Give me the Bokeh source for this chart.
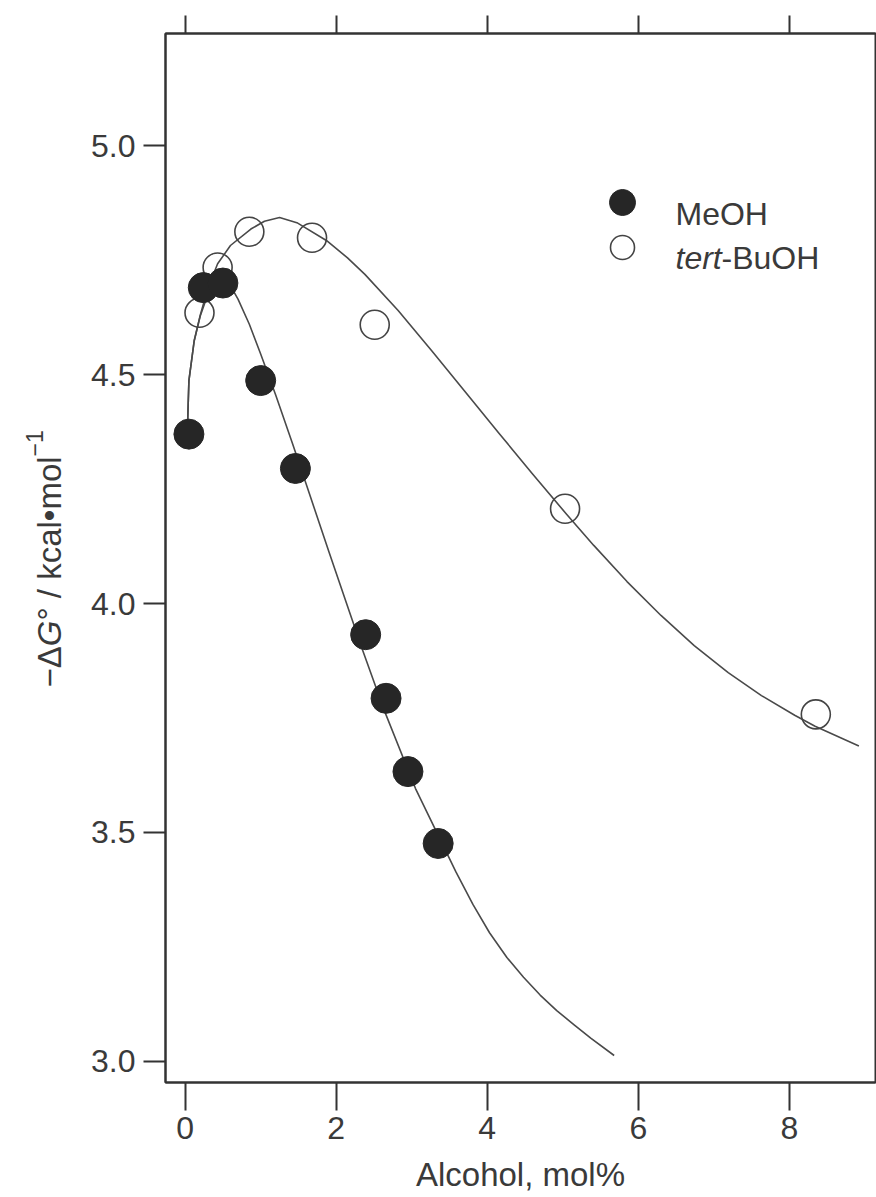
import math
from bokeh.plotting import figure
from bokeh.layouts import row
from bokeh.models import LinearAxis, FixedTicker, Label, Range1d, PrintfTickFormatter
from bokeh.embed import file_html
from bokeh.resources import INLINE

# ---------------- data ----------------
meoh_x = [0.05, 0.24, 0.50, 1.00, 1.46, 2.39, 2.66, 2.95, 3.35]
meoh_y = [4.370, 4.690, 4.700, 4.487, 4.295, 3.932, 3.793, 3.633, 3.476]

tbuoh_x = [0.19, 0.43, 0.85, 1.68, 2.51, 5.03, 8.35]
tbuoh_y = [4.635, 4.734, 4.812, 4.799, 4.609, 4.207, 3.758]

# fitted curves
meoh_fit_x = [0.03, 0.05, 0.12, 0.20, 0.30, 0.45, 0.58, 0.70, 0.85, 1.00, 1.20,
              1.42, 1.60, 1.90, 2.21, 2.35, 2.64, 3.05, 3.585, 3.81, 4.03,
              4.26, 4.48, 4.70, 4.92, 5.15, 5.37, 5.68]
meoh_fit_y = [4.380, 4.487, 4.574, 4.628, 4.675, 4.705, 4.700, 4.665, 4.610,
              4.545, 4.455, 4.350, 4.262, 4.115, 3.965, 3.898, 3.765, 3.596,
              3.414, 3.343, 3.281, 3.227, 3.184, 3.145, 3.111, 3.080, 3.051,
              3.013]

tbuoh_fit_x = [0.03, 0.05, 0.12, 0.20, 0.30, 0.43, 0.60, 0.87, 1.05, 1.25, 1.49,
               1.87, 2.15, 2.38, 2.82, 3.27, 3.71, 4.16, 4.60, 5.05, 5.41, 5.85,
               6.30, 6.74, 7.19, 7.63, 8.07, 8.34, 8.92]
tbuoh_fit_y = [4.380, 4.487, 4.574, 4.630, 4.688, 4.742, 4.782, 4.818, 4.835,
               4.843, 4.831, 4.793, 4.755, 4.719, 4.640, 4.551, 4.462, 4.371,
               4.283, 4.195, 4.127, 4.048, 3.974, 3.908, 3.849, 3.799, 3.756,
               3.732, 3.689]

x_ticks = [0, 2, 4, 6, 8]
y_ticks = [3.0, 3.5, 4.0, 4.5, 5.0]

series_names = ["MeOH", "tert-BuOH"]
x_label = "Alcohol, mol%"

# ---------------- layout ----------------
W, H = 876, 1197
LW = 80                      # width of the strip that carries the y title
FL, FR, FT, FB = 165, 875, 33, 1082
X0, X1 = -0.26, 9.14
Y0, Y1 = 2.954, 5.245

INK = "#333333"
TXT = "#3a3a3a"
FONT = "Liberation Sans"


def px2x(px):
    return X0 + (px - FL) / (FR - FL) * (X1 - X0)


def py2y(py):
    return Y0 + (FB - py) / (FB - FT) * (Y1 - Y0)


p = figure(width=W - LW, height=H, x_range=Range1d(X0, X1),
           y_range=Range1d(Y0, Y1),
           output_backend="svg", toolbar_location=None,
           min_border_left=FL - LW, min_border_right=W - FR,
           min_border_top=FT, min_border_bottom=H - FB)
p.background_fill_color = "white"
p.border_fill_color = "white"
p.outline_line_color = INK
p.outline_line_width = 2
p.xgrid.visible = False
p.ygrid.visible = False

# bottom axis
xa = p.xaxis[0]
xa.ticker = FixedTicker(ticks=x_ticks)
xa.axis_line_color = INK
xa.axis_line_width = 2
xa.major_tick_line_color = INK
xa.major_tick_line_width = 2
xa.major_tick_in = 0
xa.major_tick_out = 28
xa.minor_tick_line_color = None
xa.major_label_standoff = 6
xa.major_label_text_font = FONT
xa.major_label_text_font_size = "32px"
xa.major_label_text_color = TXT
xa.axis_label = x_label
xa.axis_label_text_font = FONT
xa.axis_label_text_font_size = "33px"
xa.axis_label_text_font_style = "normal"
xa.axis_label_text_color = TXT
xa.axis_label_standoff = 14

# left axis
ya = p.yaxis[0]
ya.ticker = FixedTicker(ticks=y_ticks)
ya.formatter = PrintfTickFormatter(format="%.1f")
ya.axis_line_color = INK
ya.axis_line_width = 2
ya.major_tick_line_color = INK
ya.major_tick_line_width = 2
ya.major_tick_in = 0
ya.major_tick_out = 22
ya.minor_tick_line_color = None
ya.major_label_standoff = 8
ya.major_label_text_font = FONT
ya.major_label_text_font_size = "32px"
ya.major_label_text_color = TXT

# top axis (ticks only)
top = LinearAxis(ticker=FixedTicker(ticks=x_ticks))
top.axis_line_color = INK
top.axis_line_width = 2
top.major_tick_line_color = INK
top.major_tick_line_width = 2
top.major_tick_in = 0
top.major_tick_out = 18
top.minor_tick_line_color = None
top.major_label_text_font_size = "0px"
top.major_label_text_alpha = 0
p.add_layout(top, "above")

# curves
p.line(meoh_fit_x, meoh_fit_y, line_color="#4a4a4a", line_width=1.6,
       line_join="round")
p.line(tbuoh_fit_x, tbuoh_fit_y, line_color="#4a4a4a", line_width=1.6,
       line_join="round")

# points
p.scatter(tbuoh_x, tbuoh_y, marker="circle", size=29, fill_alpha=0,
          line_color="#444444", line_width=1.6)
p.scatter(meoh_x, meoh_y, marker="circle", size=30, fill_color="#262626",
          line_color="#262626", line_width=1)

# legend (keys + labels)
p.scatter([px2x(622)], [py2y(202)], marker="circle", size=26,
          fill_color="#262626", line_color="#262626")
p.scatter([px2x(622)], [py2y(247)], marker="circle", size=24, fill_alpha=0,
          line_color="#444444", line_width=1.6)
p.add_layout(Label(x=px2x(675), y=py2y(213), text=series_names[0],
                   text_font=FONT, text_font_size="32px", text_color=TXT,
                   text_align="left", text_baseline="alphabetic"))
p.add_layout(Label(x=px2x(675), y=py2y(257), text="tert",
                   text_font=FONT, text_font_size="32px", text_color=TXT,
                   text_font_style="italic",
                   text_align="left", text_baseline="alphabetic"))
p.add_layout(Label(x=px2x(675 + 46), y=py2y(257), text="-BuOH",
                   text_font=FONT, text_font_size="32px", text_color=TXT,
                   text_align="left", text_baseline="alphabetic"))

# ---------------- strip with the rotated y title: −ΔG° / kcal•mol⁻¹ -------
# its frame spans the same rows as the main frame; ranges are in page pixels
t = figure(width=LW, height=H, x_range=Range1d(0, LW), y_range=Range1d(FB, FT),
           output_backend="svg", toolbar_location=None,
           min_border_left=0, min_border_right=0, min_border_top=FT,
           min_border_bottom=H - FB)
t.axis.visible = False
t.xgrid.visible = False
t.ygrid.visible = False
t.outline_line_color = None
t.background_fill_color = "white"
t.border_fill_color = "white"

# (text, style, font px, raise px, advance in em)
ylab_pieces = [
    ("\u2212\u0394", "normal", 33, 0, 0.584 + 0.668),
    ("G", "italic", 33, 0, 0.778),
    ("\u00b0 / kcal\u2022mol", "normal", 33, 0, 0.4 + 0.834 + 3.739),
    ("\u22121", "normal", 23, 19, 0.584 + 0.556),
]
py_cur = 687
base_px = 61
for txt, style, fs, raise_px, em in ylab_pieces:
    w = em * fs
    cx = base_px - raise_px - 0.35 * fs
    cy = py_cur - w / 2
    t.add_layout(Label(x=cx, y=cy, text=txt,
                       angle=math.pi / 2, text_font=FONT,
                       text_font_size=f"{fs}px", text_font_style=style,
                       text_color=TXT, text_align="center",
                       text_baseline="middle"))
    py_cur -= w

layout = row(t, p)
open("out.html", "w").write(file_html(layout, INLINE))
